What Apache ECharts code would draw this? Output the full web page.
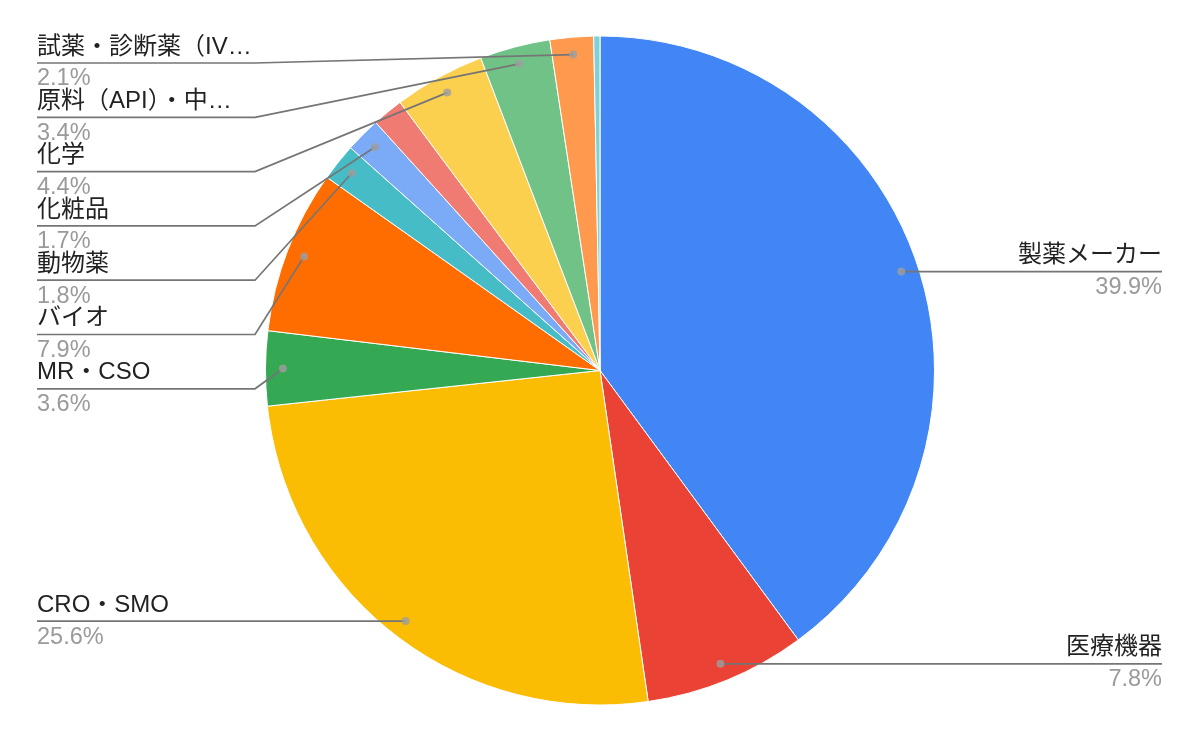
<!DOCTYPE html>
<html><head><meta charset="utf-8">
<script src="https://cdn.jsdelivr.net/npm/echarts@6/dist/echarts.min.js"></script>
<style>html,body{margin:0;padding:0;background:#fff}#c{width:1200px;height:742px}</style>
</head><body><div id="c"></div>
<script>
// ---- data ----
const categories = ['製薬メーカー','医療機器','CRO・SMO','MR・CSO','バイオ','動物薬','化粧品','食品','化学','原料（API）・中…','試薬・診断薬（IV…','その他'];
const shares = [39.9, 7.8, 25.6, 3.6, 7.9, 1.8, 1.7, 1.5, 4.4, 3.4, 2.1, 0.3];
const showLabel = [true, true, true, true, true, true, true, false, true, true, true, false];
const colors = ['#4285F4','#EA4335','#FBBC04','#34A853','#FF6D01','#46BDC6','#7BAAF7','#F07B72','#FCD04F','#71C287','#FF994D','#7ED1D7'];

// ---- layout ----
const CX = 600, CY = 370.5, R = 334.5, ANCHOR = 0.948;
const LEFT_X = 37, RIGHT_X = 1162, LEFT_ELBOW = 255, RIGHT_ELBOW = 945, TOP_Y = 63, GAP = 54.3;
const FONT = "'Liberation Sans', Arial, 'Noto Sans CJK JP', sans-serif";

const total = shares.reduce((a, b) => a + b, 0);
const mids = []; let acc = 0;
shares.forEach(v => { mids.push((acc + v / 2) / total * 100); acc += v; });

const anchors = mids.map(m => { const a = m / 100 * 2 * Math.PI; return { x: CX + ANCHOR * R * Math.sin(a), y: CY - ANCHOR * R * Math.cos(a) }; });
const labelY = new Array(shares.length).fill(null);
['L', 'R'].forEach(side => {
  const idx = shares.map((_, i) => i).filter(i => showLabel[i] && ((anchors[i].x < CX) === (side === 'L')));
  idx.sort((a, b) => anchors[a].y - anchors[b].y);
  let prev = -Infinity;
  idx.forEach(i => { const y = Math.max(anchors[i].y, TOP_Y, prev + GAP); labelY[i] = y; prev = y; });
});

const pieData = categories.map((n, i) => ({ name: n, value: shares[i], itemStyle: { color: colors[i] } }));
const labelData = categories.map((n, i) => {
  const d = { name: n, value: shares[i] };
  if (!showLabel[i]) { d.label = { show: false }; d.labelLine = { show: false }; }
  return d;
});
const dotData = [];
shares.forEach((v, i) => { if (showLabel[i]) dotData.push([ANCHOR, mids[i]]); });

const chart = echarts.init(document.getElementById('c'));
chart.setOption({
  animation: false,
  backgroundColor: '#fff',
  polar: { center: [CX, CY], radius: R },
  angleAxis: { type: 'value', min: 0, max: 100, startAngle: 90, clockwise: true, show: false,
    axisLine: { show: false }, axisTick: { show: false }, axisLabel: { show: false }, splitLine: { show: false } },
  radiusAxis: { type: 'value', min: 0, max: 1, show: false,
    axisLine: { show: false }, axisTick: { show: false }, axisLabel: { show: false }, splitLine: { show: false } },
  series: [
    {
      type: 'pie',
      z: 2,
      center: [CX, CY],
      radius: R,
      startAngle: 90,
      clockwise: true,
      itemStyle: { borderColor: '#fff', borderWidth: 1 },
      emphasis: { disabled: true },
      label: { show: false },
      labelLine: { show: false },
      data: pieData
    },
    {
      type: 'pie',
      z: 5,
      silent: true,
      center: [CX, CY],
      radius: R,
      startAngle: 90,
      clockwise: true,
      avoidLabelOverlap: false,
      itemStyle: { color: 'rgba(0,0,0,0)', borderWidth: 0 },
      emphasis: { disabled: true },
      label: {
        show: true,
        position: 'outside',
        formatter: p => '{n|' + p.name + '}\n{p|' + p.value.toFixed(1) + '%}',
        rich: {
          n: { fontSize: 24, color: '#222', lineHeight: 32, fontFamily: FONT },
          p: { fontSize: 23.5, color: '#9a9a9a', lineHeight: 32, fontFamily: FONT }
        }
      },
      labelLine: { show: true, length: 10, length2: 10, smooth: false, lineStyle: { color: '#757575', width: 1.7 } },
      labelLayout: function (p) {
        const i = p.dataIndex;
        if (!showLabel[i]) return {};
        const an = anchors[i], y = labelY[i];
        if (an.x < CX) {
          return { x: LEFT_X, y: y, align: 'left', verticalAlign: 'middle',
            labelLinePoints: [[an.x, an.y], [Math.min(LEFT_ELBOW, an.x), y], [LEFT_X, y]] };
        }
        return { x: RIGHT_X, y: y, align: 'right', verticalAlign: 'middle',
          labelLinePoints: [[an.x, an.y], [Math.max(RIGHT_ELBOW, an.x), y], [RIGHT_X, y]] };
      },
      data: labelData
    },
    {
      type: 'scatter',
      coordinateSystem: 'polar',
      silent: true,
      z: 10,
      symbolSize: 8,
      itemStyle: { color: '#9e9e9e' },
      data: dotData
    }
  ]
});
</script>
</body></html>
